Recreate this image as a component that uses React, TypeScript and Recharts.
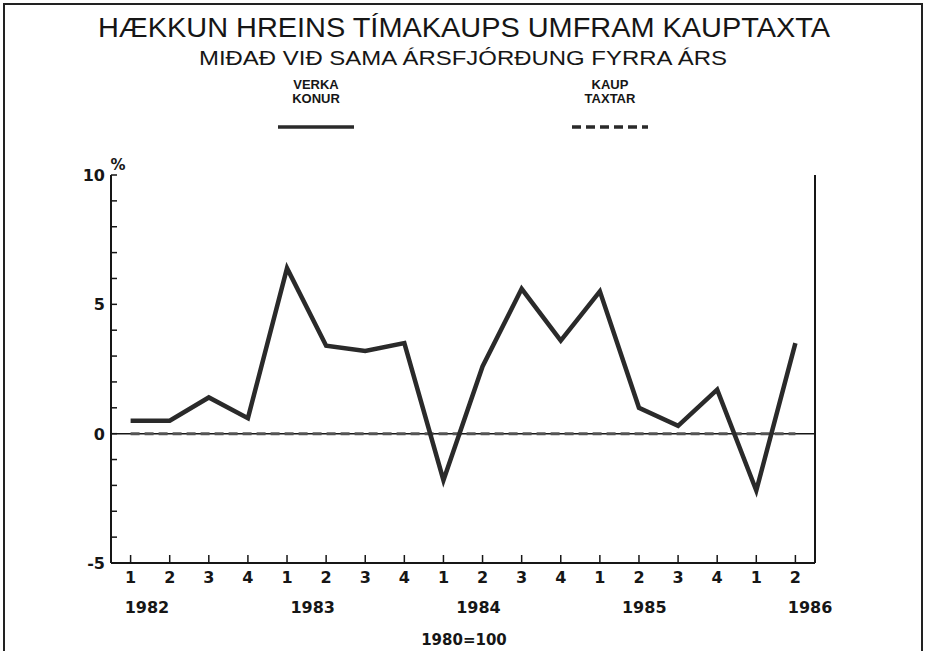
import React from 'react';
import { LineChart, Line, XAxis, YAxis, ReferenceLine, Legend } from 'recharts';

// ársfjórðungar 1982:1 - 1986:2
const periods = [
  '1982-1', '1982-2', '1982-3', '1982-4',
  '1983-1', '1983-2', '1983-3', '1983-4',
  '1984-1', '1984-2', '1984-3', '1984-4',
  '1985-1', '1985-2', '1985-3', '1985-4',
  '1986-1', '1986-2'
];
const verkaKonur = [0.5, 0.5, 1.4, 0.6, 6.4, 3.4, 3.2, 3.5, -1.8, 2.6, 5.6, 3.6, 5.5, 1.0, 0.3, 1.7, -2.2, 3.5];
const kaupTaxtar = [0, 0, 0, 0, 0, 0, 0, 0, 0, 0, 0, 0, 0, 0, 0, 0, 0, 0];
const years = [1982, 1983, 1984, 1985, 1986];
const yTicks = [-5, -4, -3, -2, -1, 0, 1, 2, 3, 4, 5, 6, 7, 8, 9, 10];
const yLabels = [-5, 0, 5, 10];

const data = periods.map((p, i) => {
  const [yr, q] = p.split('-').map(Number);
  return { period: p, yearPos: yr + (q - 1) / 4, verka: verkaKonur[i], taxtar: kaupTaxtar[i] };
});

const INK = '#161616';
const TICK_FONT = "'DejaVu Sans', sans-serif";

const QuarterTick = (props: any) => {
  const { x, y, payload } = props;
  const q = String(payload.value).split('-')[1];
  return (
    <g>
      <line x1={x} y1={y} x2={x} y2={y - 8} stroke={INK} strokeWidth={1.5} />
      <text x={x} y={y + 20} textAnchor="middle" fontFamily={TICK_FONT} fontWeight="bold" fontSize={16} fill={INK}>
        {q}
      </text>
    </g>
  );
};

const YearTick = (props: any) => {
  const { x, y, payload } = props;
  return (
    <text x={x} y={y + 20} textAnchor="middle" fontFamily={TICK_FONT} fontWeight="bold" fontSize={16} fill={INK}>
      {payload.value}
    </text>
  );
};

const LeftTick = (props: any) => {
  const { x, y, payload } = props;
  const show = yLabels.includes(payload.value);
  return (
    <g>
      <line x1={x} y1={y} x2={x + 6} y2={y} stroke={INK} strokeWidth={1.5} />
      {show && (
        <text x={x - 6} y={y + 6} textAnchor="end" fontFamily={TICK_FONT} fontWeight="bold" fontSize={16} fill={INK}>
          {payload.value}
        </text>
      )}
    </g>
  );
};

const RightTick = (props: any) => {
  const { x, y } = props;
  return <line x1={x - 5} y1={y} x2={x} y2={y} stroke={INK} strokeWidth={1.5} />;
};

const legendItems = [
  { key: 'verka', lines: ['VERKA', 'KONUR'], cx: 316, dash: undefined as string | undefined },
  { key: 'taxtar', lines: ['KAUP', 'TAXTAR'], cx: 610, dash: '9 5' }
];

const legendText: React.CSSProperties = {
  fontFamily: "'Liberation Sans', sans-serif",
  fontWeight: 'bold',
  fontSize: 13,
  lineHeight: '14px',
  height: 14,
  color: INK
};

const renderLegend = () => (
  <div style={{ position: 'relative', width: 928, height: 0 }}>
    {legendItems.map((it) => (
      <div key={it.key} style={{ position: 'absolute', left: it.cx - 45, top: 78, width: 90, textAlign: 'center' }}>
        <div style={legendText}>{it.lines[0]}</div>
        <div style={legendText}>{it.lines[1]}</div>
        <svg width={90} height={10} style={{ position: 'absolute', left: 0, top: 44 }}>
          <line x1={7} y1={5} x2={83} y2={5} stroke="#2a2a2a" strokeWidth={3.5} strokeDasharray={it.dash} />
        </svg>
      </div>
    ))}
  </div>
);

export default function App() {
  return (
    <div style={{ position: 'absolute', left: 0, top: 0, width: 928, height: 651, overflow: 'hidden', background: '#fff' }}>
      <div
        style={{
          position: 'absolute',
          left: 3,
          top: 3,
          width: 920,
          height: 700,
          border: '2px solid #222',
          boxSizing: 'border-box'
        }}
      />
      <LineChart
        width={928}
        height={651}
        data={data}
        margin={{ top: 175, right: 103, bottom: 28, left: 71 }}
        style={{ position: 'absolute', left: 0, top: 0 }}
      >
        <XAxis
          dataKey="period"
          interval={0}
          padding={{ left: 19.6, right: 19.6 }}
          height={30}
          tickSize={0}
          tickMargin={0}
          tickLine={false}
          axisLine={{ stroke: INK, strokeWidth: 2 }}
          tick={<QuarterTick />}
        />
        <XAxis
          xAxisId="year"
          dataKey="yearPos"
          type="number"
          domain={[1981.783, 1986.03]}
          allowDataOverflow
          ticks={years}
          interval={0}
          height={30}
          tickSize={0}
          tickMargin={0}
          tickLine={false}
          axisLine={false}
          tick={<YearTick />}
        />
        <XAxis
          xAxisId="top"
          dataKey="period"
          orientation="top"
          height={0}
          tick={false}
          tickLine={false}
          axisLine={{ stroke: INK, strokeWidth: 2 }}
        />
        <YAxis
          type="number"
          domain={[-5, 10]}
          ticks={yTicks}
          interval={0}
          width={40}
          tickSize={0}
          tickMargin={0}
          tickLine={false}
          axisLine={{ stroke: INK, strokeWidth: 2 }}
          tick={<LeftTick />}
          label={{ value: '%', position: 'top', offset: 5, fill: INK, fontFamily: TICK_FONT, fontWeight: 'bold', fontSize: 15, dx: 27 }}
        />
        <YAxis
          yAxisId="right"
          orientation="right"
          type="number"
          domain={[-5, 10]}
          ticks={yTicks}
          interval={0}
          width={10}
          tickSize={0}
          tickMargin={0}
          tickLine={false}
          axisLine={{ stroke: INK, strokeWidth: 2 }}
          tick={<RightTick />}
        />
        <Legend verticalAlign="top" content={renderLegend} wrapperStyle={{ position: 'absolute', left: 0, top: 0, width: 928, height: 0 }} />
        <ReferenceLine y={0} stroke={INK} strokeWidth={1.5} />
        <Line
          dataKey="taxtar"
          name="KAUP TAXTAR"
          stroke="#555"
          strokeWidth={3}
          strokeDasharray="9 5"
          dot={false}
          isAnimationActive={false}
        />
        <Line
          dataKey="verka"
          name="VERKA KONUR"
          stroke="#2a2a2a"
          strokeWidth={4.5}
          strokeLinejoin="miter"
          dot={false}
          isAnimationActive={false}
        />
      </LineChart>
      <svg width={928} height={651} style={{ position: 'absolute', left: 0, top: 0, pointerEvents: 'none' }}>
        <text
          x={98}
          y={37}
          textLength={732}
          lengthAdjust="spacingAndGlyphs"
          fontFamily="'Liberation Sans', sans-serif"
          fontSize={28}
          fill={INK}
        >
          HÆKKUN HREINS TÍMAKAUPS UMFRAM KAUPTAXTA
        </text>
        <text
          x={199}
          y={65}
          textLength={528}
          lengthAdjust="spacingAndGlyphs"
          fontFamily="'Liberation Sans', sans-serif"
          fontSize={21}
          fill={INK}
        >
          MIÐAÐ VIÐ SAMA ÁRSFJÓRÐUNG FYRRA ÁRS
        </text>
        <text x={464} y={645} textAnchor="middle" fontFamily={TICK_FONT} fontWeight="bold" fontSize={15} fill={INK}>
          1980=100
        </text>
      </svg>
    </div>
  );
}
